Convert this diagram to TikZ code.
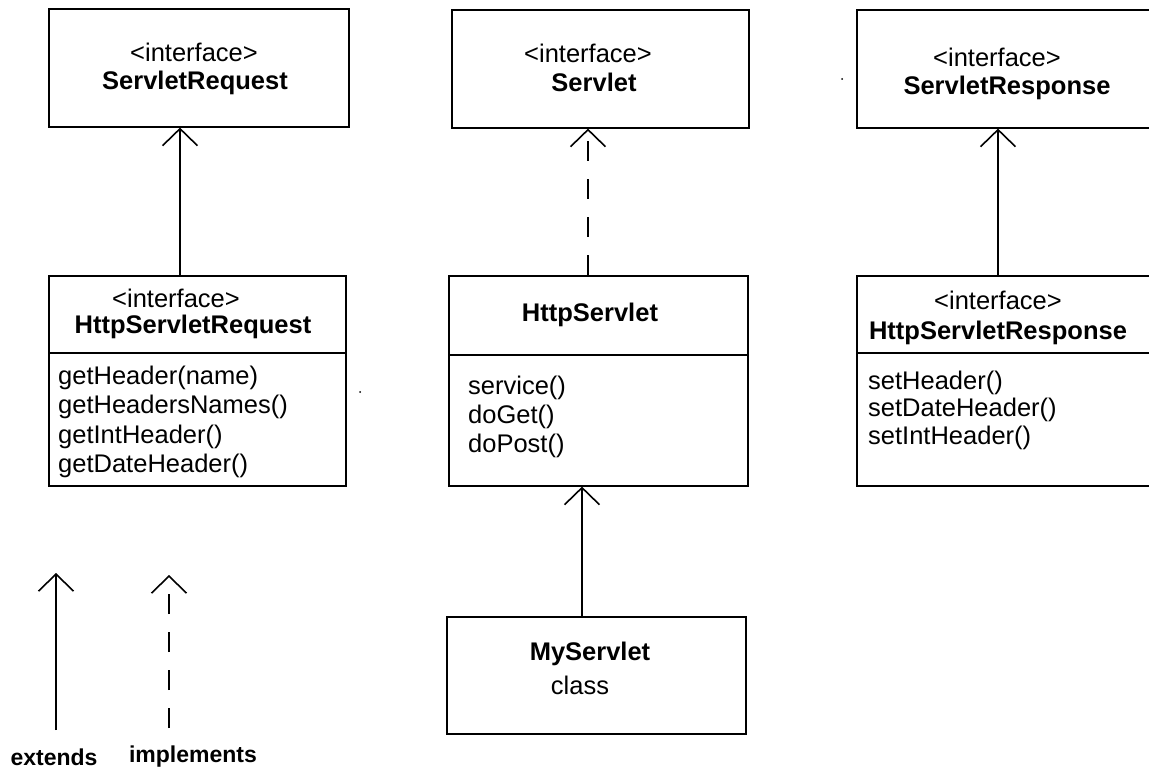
\documentclass[tikz,border=0pt]{standalone}
\usepackage{fontspec}
\setmainfont{Liberation Sans}
\usetikzlibrary{arrows.meta}
\tikzset{
  box/.style={draw, line width=1.6pt, rectangle, anchor=north west, inner sep=0pt},
  divider/.style={line width=1.6pt},
  lbl/.style={inner sep=0pt, font=\fontsize{25.5}{29}\selectfont},
  ttl/.style={inner sep=0pt, font=\fontsize{25.5}{29}\selectfont\bfseries},
  meth/.style={inner sep=0pt, anchor=west, align=left},
  legtxt/.style={inner sep=0pt, font=\fontsize{23}{26}\selectfont\bfseries},
  ext/.style={line width=1.6pt, -{Straight Barb[length=17pt,width=35pt,line width=1.6pt]}},
  impl/.style={ext, dash pattern=on 20pt off 18pt},
}
\begin{document}
\begin{tikzpicture}[x=1pt,y=-1pt]
\useasboundingbox (0,0) rectangle (1149,770);
\clip (0,0) rectangle (1149,770);
% ServletRequest
\node[box, minimum width=300pt, minimum height=118pt] (sreq) at (48,8) {};
\node[lbl] (sreqst) at (194,52) {<interface>};
\node[ttl] (sreqt) at (195,83) {ServletRequest};
% Servlet
\node[box, minimum width=297pt, minimum height=118pt] (srv) at (451,9) {};
\node[lbl] (srvst) at (588,53) {<interface>};
\node[ttl] (srvt) at (594,82) {Servlet};
% ServletResponse (cut at right edge)
\node[box, minimum width=320pt, minimum height=118pt] (sres) at (856,9) {};
\node[lbl] (sresst) at (997,57) {<interface>};
\node[ttl] (srest) at (1007,88) {ServletResponse};
% HttpServletRequest
\node[box, minimum width=297pt, minimum height=210pt] (hreq) at (48,275) {};
\draw[divider] (48,353) coordinate (hreqa) -- (345,353) coordinate (hreqb);
\node[lbl] (hreqst) at (176,298) {<interface>};
\node[ttl] (hreqt) at (193,327) {HttpServletRequest};
\node[meth, font=\fontsize{25.5}{29.5}\selectfont] (hreqm) at (58,422) {getHeader(name)\\getHeadersNames()\\getIntHeader()\\getDateHeader()};
% HttpServlet
\node[box, minimum width=299pt, minimum height=210pt] (hsrv) at (448,275) {};
\draw[divider] (448,355) coordinate (hsrva) -- (747,355) coordinate (hsrvb);
\node[ttl] (hsrvt) at (590,315) {HttpServlet};
\node[meth, font=\fontsize{25.5}{29}\selectfont] (hsrvm) at (468,417) {service()\\doGet()\\doPost()};
% HttpServletResponse (cut at right edge)
\node[box, minimum width=320pt, minimum height=210pt] (hres) at (856,275) {};
\draw[divider] (856,353) coordinate (hresa) -- (1149,353) coordinate (hresb);
\node[lbl] (hresst) at (998,300) {<interface>};
\node[ttl] (hrest) at (998,333) {HttpServletResponse};
\node[meth, font=\fontsize{25.5}{27.5}\selectfont] (hresm) at (868,410) {setHeader()\\setDateHeader()\\setIntHeader()};
% MyServlet
\node[box, minimum width=299pt, minimum height=117pt] (mys) at (446,616) {};
\node[ttl] (myst) at (590,654) {MyServlet};
\node[lbl] (mysc) at (580,685) {class};
% connectors
\draw[ext] (hreq.north -| 180,0) -- (sreq.south -| 180,0);
\draw[impl] (hsrv.north -| 588,0) -- (srv.south -| 588,0);
\draw[ext] (hres.north -| 998,0) -- (sres.south -| 998,0);
\draw[ext] (mys.north -| 582,0) -- (hsrv.south -| 582,0);
% stray dots
\fill (360,392) circle (1pt);
\fill (842,79) circle (1pt);
% legend
\coordinate (le1) at (56,730);
\coordinate (le2) at (56,573);
\coordinate (li1) at (169,728);
\coordinate (li2) at (169,575);
\draw[ext] (le1) -- (le2);
\draw[impl] (li1) -- (li2);
\node[legtxt] (lext) at (54,757) {extends};
\node[legtxt] (limp) at (193,757) {implements};
\end{tikzpicture}
\end{document}
